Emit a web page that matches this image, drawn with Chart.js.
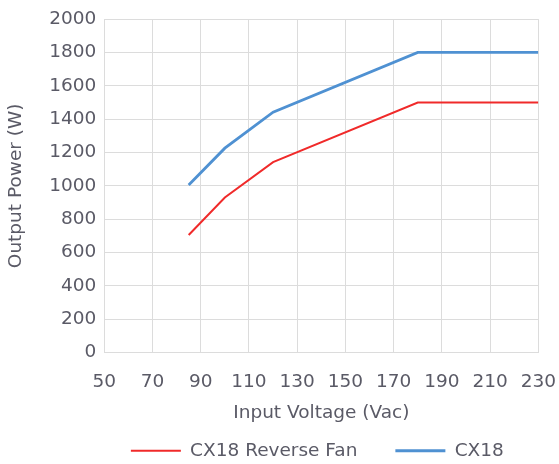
<!DOCTYPE html>
<html><head><meta charset="utf-8">
<script src="https://cdn.jsdelivr.net/npm/chart.js@4/dist/chart.umd.min.js"></script>
<style>html,body{margin:0;padding:0;background:#fff}#wrap{width:559px;height:464px}</style>
</head><body><div id="wrap"><canvas id="c" width="559" height="464"></canvas></div>
<script>
const seriesNames = ["CX18 Reverse Fan", "CX18"];
const voltageReverse = [85, 100, 120, 180, 230];
const powerReverse = [705, 930, 1142, 1500, 1500];
const voltageCX18 = [85, 100, 120, 180, 230];
const powerCX18 = [1005, 1226, 1442, 1800, 1800];
const xTicks = [50, 70, 90, 110, 130, 150, 170, 190, 210, 230];
const yTicks = [0, 200, 400, 600, 800, 1000, 1200, 1400, 1600, 1800, 2000];

const toPts = (xs, ys) => xs.map((x, i) => ({x, y: ys[i]}));
const FONT = "'DejaVu Sans', sans-serif";
const FS = 18.5;
const TXT = '#5a5a66';

const legendShift = {
  id: 'legendShift',
  afterLayout(chart) {
    const lg = chart.legend, ca = chart.chartArea;
    if (!lg || !ca) return;
    const d = (ca.left + ca.right) / 2 - (lg.left + lg.right) / 2 - 4;
    lg.left += d; lg.right += d;
  }
};

new Chart(document.getElementById('c'), {
  type: 'line',
  data: {
    datasets: [
      {label: seriesNames[0], data: toPts(voltageReverse, powerReverse), borderColor: '#f02a2a', backgroundColor: '#f02a2a', borderWidth: 2, pointRadius: 0, tension: 0},
      {label: seriesNames[1], data: toPts(voltageCX18, powerCX18), borderColor: '#4f91d2', backgroundColor: '#4f91d2', borderWidth: 2.8, pointRadius: 0, tension: 0}
    ]
  },
  plugins: [legendShift],
  options: {
    responsive: false,
    animation: false,
    layout: {padding: {left: 5, right: 0, top: 1, bottom: -6}},
    plugins: {
      legend: {
        position: 'bottom',
        labels: {
          usePointStyle: true,
          pointStyle: 'line',
          pointStyleWidth: 50,
          font: {family: FONT, size: FS},
          color: TXT,
          padding: 38
        }
      },
      tooltip: {enabled: false}
    },
    scales: {
      x: {
        type: 'linear',
        min: 50, max: 230,
        afterBuildTicks: s => { s.ticks = xTicks.map(v => ({value: v})); },
        ticks: {font: {family: FONT, size: FS, lineHeight: 2.85}, color: TXT, padding: 3, callback: v => String(v)},
        grid: {color: '#dcdcdc', drawTicks: false},
        border: {color: '#dcdcdc'},
        title: {display: true, text: 'Input Voltage (Vac)', font: {family: FONT, size: FS}, color: TXT, padding: {top: -9, bottom: -21}}
      },
      y: {
        min: 0, max: 2000,
        afterBuildTicks: s => { s.ticks = yTicks.map(v => ({value: v})); },
        ticks: {font: {family: FONT, size: FS}, color: TXT, padding: 8, callback: v => String(v)},
        grid: {color: '#dcdcdc', drawTicks: false},
        border: {color: '#dcdcdc'},
        title: {display: true, text: 'Output Power (W)', font: {family: FONT, size: FS}, color: TXT, padding: {top: 0, bottom: 14}}
      }
    }
  }
});
</script></body></html>
